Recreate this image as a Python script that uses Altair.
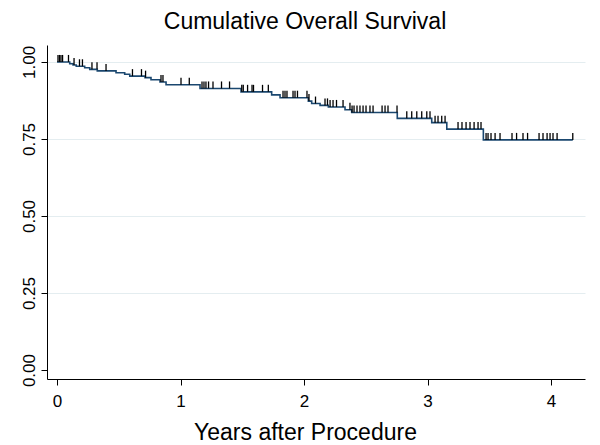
import altair as alt
import pandas as pd
import numpy as np

# Kaplan-Meier step points (years, survival)
step_t = [0.0, 0.103, 0.130, 0.156, 0.224, 0.265, 0.326, 0.478, 0.548, 0.589,
          0.713, 0.761, 0.834, 0.883, 1.158, 1.490, 1.738, 1.806, 2.035, 2.062,
          2.130, 2.197, 2.332, 2.386, 2.755, 3.034, 3.156, 3.452, 4.176]
step_s = [1.000, 0.994, 0.990, 0.986, 0.981, 0.976, 0.971, 0.965, 0.960, 0.954,
          0.949, 0.942, 0.935, 0.926, 0.914, 0.903, 0.893, 0.884, 0.873, 0.865,
          0.859, 0.854, 0.845, 0.836, 0.817, 0.803, 0.782, 0.747, 0.747]

# censored observation times (years)
censor_t = [0.008, 0.020, 0.032, 0.045, 0.093, 0.138, 0.182, 0.206, 0.283, 0.324,
            0.397, 0.611, 0.684, 0.717, 0.842, 0.858, 1.004, 1.071, 1.174, 1.190,
            1.206, 1.227, 1.263, 1.332, 1.397, 1.496, 1.508, 1.543, 1.579, 1.591,
            1.664, 1.711, 1.830, 1.846, 1.862, 1.911, 1.927, 1.947, 2.024, 2.040,
            2.093, 2.170, 2.190, 2.211, 2.235, 2.263, 2.316, 2.372, 2.389, 2.405,
            2.429, 2.453, 2.478, 2.502, 2.534, 2.559, 2.632, 2.656, 2.680, 2.753,
            2.832, 2.872, 2.913, 2.953, 2.994, 3.020, 3.061, 3.085, 3.115, 3.142,
            3.247, 3.279, 3.312, 3.344, 3.377, 3.409, 3.433, 3.474, 3.490, 3.514,
            3.547, 3.587, 3.684, 3.721, 3.773, 3.810, 3.903, 3.935, 3.968, 3.992,
            4.016, 4.049, 4.176]

x_ticks = [0, 1, 2, 3, 4]
y_ticks = [0, 0.25, 0.5, 0.75, 1.0]

steps = pd.DataFrame({"t": step_t, "s": step_s})
idx = np.searchsorted(np.array(step_t), np.array(censor_t), side="right") - 1
cens = pd.DataFrame({"t": censor_t, "s": [step_s[i] for i in idx]})

FONT = "Liberation Sans"
xscale = alt.Scale(domain=[-0.081, 4.275], nice=False, zero=False)
yscale = alt.Scale(domain=[-0.029, 1.055], nice=False, zero=False)

xaxis = alt.Axis(values=x_ticks, format="d", title="Years after Procedure",
                 grid=False, tickSize=6, labelPadding=8, labelFontSize=17,
                 titleFontSize=23, titleFontWeight="normal", titleX=258,
                 titleY=60, titleBaseline="alphabetic", titleAnchor="start",
                 titleAlign="center")
yaxis = alt.Axis(values=y_ticks, format=".2f", title=None, grid=True,
                 gridColor="#e4edf0", gridWidth=1,
                 gridOpacity=alt.expr("datum.value == 0 ? 0 : 1"),
                 tickSize=6, labelAngle=270, labelFontSize=17, labelPadding=3,
                 labelBaseline="bottom", labelAlign="center")

line = alt.Chart(steps).mark_line(interpolate="step-after", color="#1a476f",
                                  strokeWidth=1.6).encode(
    x=alt.X("t:Q", scale=xscale, axis=xaxis),
    y=alt.Y("s:Q", scale=yscale, axis=yaxis),
)

ticks = alt.Chart(cens).mark_tick(orient="vertical", size=7, thickness=1.3,
                                  color="#000000", yOffset=-3.5, opacity=1).encode(
    x=alt.X("t:Q", scale=xscale),
    y=alt.Y("s:Q", scale=yscale),
)

chart = (line + ticks).properties(
    width=538, height=334,
    autosize=alt.AutoSizeParams(type="none"),
    padding={"left": 39, "top": 37, "right": 7, "bottom": 66},
    title=alt.TitleParams("Cumulative Overall Survival", fontSize=23,
                          fontWeight="normal", font=FONT, anchor="middle",
                          dx=-11, offset=11, color="#000000"),
    background="white",
).configure_axis(
    labelFont=FONT, titleFont=FONT, labelColor="#000000", titleColor="#000000",
    domainColor="#000000", tickColor="#000000", domainWidth=1, tickWidth=1,
).configure_view(stroke=None)

chart.save("out.html", embed_options={"renderer": "svg", "actions": False})
